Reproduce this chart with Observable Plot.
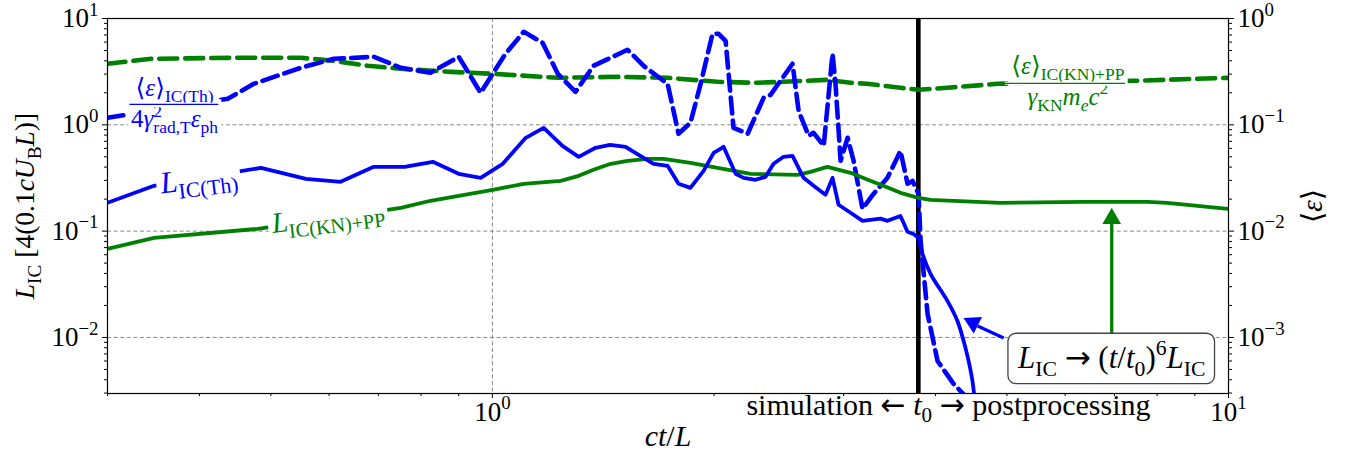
<!DOCTYPE html>
<html><head><meta charset="utf-8">
<script src="https://cdn.jsdelivr.net/npm/d3@7"></script>
<script src="https://cdn.jsdelivr.net/npm/@observablehq/plot@0.6"></script>
<style>body{margin:0;background:#fff} svg{display:block}</style>
</head><body><div id="chart"></div>
<script>
// ---------- data ----------
const t0 = 3.79;
// L_IC(Th) (solid blue, left axis)
const tThSim = [0.300,0.347,0.40,0.485,0.558,0.622,0.690,0.760,0.830,0.900,0.964,1.033,1.11,1.174,1.245,1.31,1.381,1.445,1.517,1.58,1.656,1.73,1.79,1.858,1.936,1.998,2.061,2.14,2.194,2.278,2.35,2.41,2.486,2.557,2.647,2.731,2.835,2.898,2.953,3.066,3.183,3.367,3.441,3.584,3.664,3.733,3.792];
const LThSim = [0.185,0.267,0.317,0.394,0.31,0.291,0.403,0.403,0.449,0.346,0.317,0.43,0.755,0.937,0.634,0.5,0.608,0.649,0.621,0.522,0.43,0.412,0.279,0.255,0.369,0.545,0.621,0.346,0.317,0.304,0.324,0.43,0.5,0.511,0.317,0.267,0.22,0.317,0.177,0.149,0.125,0.131,0.125,0.139,0.0985,0.094,0.0865];
const tThPost = [3.792,3.84,3.937,4.151,4.283,4.392,4.489,4.55];
const LThPost = [0.0865,0.061,0.0397,0.0221,0.0143,0.00798,0.0039,0.0015];
// <eps>_IC(Th)/(4 gamma^2 eps_ph) (dashed blue, right axis)
const tEpsThSim = [0.300,0.437,0.474,0.549,0.609,0.690,0.751,0.824,0.900,0.964,1.001,1.042,1.103,1.17,1.227,1.297,1.372,1.526,1.605,1.693,1.73,1.79,1.858,1.918,1.991,2.029,2.074,2.126,2.222,2.336,2.387,2.557,2.606,2.689,2.731,2.819,2.898,2.925,2.972,3.038,3.095,3.183,3.294,3.441,3.584,3.664,3.722,3.792];
const epsThSim = [0.1164,0.1757,0.243,0.3436,0.418,0.436,0.3436,0.309,0.436,0.2,0.302,0.466,0.75,0.591,0.302,0.2044,0.359,0.508,0.359,0.271,0.243,0.0823,0.1044,0.243,0.718,0.718,0.617,0.0937,0.0823,0.1795,0.1915,0.375,0.1354,0.0788,0.0841,0.0634,0.466,0.243,0.0459,0.0755,0.0459,0.0162,0.0224,0.0317,0.0569,0.0279,0.0297,0.0224];
const tEpsThPost = [3.792,3.817,3.901,4.025,4.232,4.392];
const epsThPost = [0.0224,0.0081,0.00167,0.0006,0.000366,0.00028];
// L_IC(KN)+PP (solid green, left axis)
const tKNSim = [0.300,0.347,0.48,0.751,0.824,0.900,1.001,1.103,1.238,1.31,1.372,1.448,1.526,1.626,1.708,1.858,2.022,2.244,2.597,2.705,2.851,3.066,3.261,3.397,3.584,3.792];
const LKNSim = [0.0682,0.0864,0.105,0.1657,0.193,0.2148,0.2445,0.2786,0.2972,0.331,0.3773,0.4296,0.4584,0.4787,0.4787,0.439,0.394,0.346,0.3386,0.3613,0.4026,0.3535,0.2972,0.2668,0.2293,0.2057];
const tKNPost = [3.792,3.937,4.901,6.35,7.76,8.25,10];
const LKNPost = [0.2057,0.197,0.1846,0.1886,0.1886,0.1846,0.162];
// <eps>_IC(KN)+PP/(gamma_KN m_e c^2) (dashed green, right axis)
const tEpsKNSim = [0.300,0.344,0.445,0.549,0.609,0.677,0.751,0.878,1.001,1.227,1.479,1.73,2.022,2.264,2.486,2.851,3.066,3.23,3.584,3.792];
const epsKNSim = [0.375,0.418,0.427,0.427,0.40,0.359,0.3364,0.315,0.302,0.2767,0.2828,0.2767,0.2538,0.2484,0.2538,0.265,0.2484,0.243,0.2229,0.2135];
const tEpsKNPost = [3.792,4.151,4.85,7.43,10];
const epsKNPost = [0.2135,0.2229,0.243,0.2594,0.2767];

// ticks
const xMajor = [1, 10];
const xMinor = [0.3,0.4,0.5,0.6,0.7,0.8,0.9,2,3,4,5,6,7,8,9];
const yMajor = [0.01, 0.1, 1, 10];          // left axis
const yMinor = [0.003,0.004,0.005,0.006,0.007,0.008,0.009,0.02,0.03,0.04,0.05,0.06,0.07,0.08,0.09,0.2,0.3,0.4,0.5,0.6,0.7,0.8,0.9,2,3,4,5,6,7,8,9];
const leftTickLabels = {0.01: "10^{−2}", 0.1: "10^{−1}", 1: "10^{0}", 10: "10^{1}"};
const rightTickLabels = {0.01: "10^{−3}", 0.1: "10^{−2}", 1: "10^{−1}", 10: "10^{0}"};
const xTickLabels = {1: "10^{0}", 10: "10^{1}"};
const EPS_TO_LEFT = 10; // right axis value x10 = left axis value

// annotations (data units)
const lblTh = [{x: 0.399, y: 0.31, text: "§$L$_{IC(Th)}"}];
const lblKN = [{x: 0.598, y: 0.136, text: "§$L$_{IC(KN)+PP}"}];
const fracTh = [{x: 0.370, y: 0.156, x1: 0.3218, x2: 0.425, num: "§⟨$ε$⟩_{IC(Th)}", den: "§4$γ$^{2}_{rad,T}$ε$_{ph}"}];
const fracKN = [{x: 6.05, y: 0.2457, x1: 4.977, x2: 7.244, num: "§⟨$ε$⟩_{IC(KN)+PP}", den: "§$γ$_{KN}$m$_{$e$}$c$^{2}"}];
const boxNote = [{x: 6.94, y: 0.00636, text: "¶$L$_{IC} → ($t$/$t$_{0})^{6}$L$_{IC}"}];
const arrowBlue = {x1: 4.95, y1: 0.0099, x2: 4.563, y2: 0.0128, tx: 4.365, ty: 0.0152};
const arrowGreen = {x1: 6.94, y1: 0.0064, x2: 6.94, y2: 0.117, tx: 6.94, ty: 0.1655};
const phaseText = [{x: 4.165, text: "simulation ← $t$_{0} → postprocessing"}];

const BLUE = "#0000ff", GREEN = "#008000";
const rows = (xs, ys) => xs.map((x, i) => ({x, y: ys[i]}));
const eps = d => d.y * EPS_TO_LEFT;

const plot = Plot.plot({
  width: 1349, height: 464,
  marginLeft: 107, marginRight: 121, marginTop: 18, marginBottom: 71,
  style: {fontFamily: "'Liberation Serif', 'DejaVu Serif', serif", fontSize: "27px", color: "black", background: "white", overflow: "visible"},
  x: {type: "log", domain: [0.3, 10], label: null},
  y: {type: "log", domain: [0.00297, 10], label: null},
  marks: [
    Plot.gridY(yMajor.slice(0, 3), {stroke: "#888", strokeOpacity: 1, strokeWidth: 1, strokeDasharray: "4,2.6"}),
    Plot.gridX([1], {stroke: "#888", strokeOpacity: 1, strokeWidth: 1, strokeDasharray: "4,2.6"}),
    Plot.ruleX([t0], {stroke: "black", strokeWidth: 4.6}),
    Plot.line(rows(tEpsKNSim, epsKNSim).concat(rows(tEpsKNPost, epsKNPost).slice(1)), {x: "x", y: eps, stroke: GREEN, strokeWidth: 4.6, strokeDasharray: "18,8", clip: true}),
    Plot.line(rows(tEpsThSim, epsThSim).concat(rows(tEpsThPost, epsThPost).slice(1)), {x: "x", y: eps, stroke: BLUE, strokeWidth: 4.6, strokeDasharray: "16,7", clip: true}),
    Plot.line(rows(tKNSim, LKNSim).concat(rows(tKNPost, LKNPost).slice(1)), {x: "x", y: "y", stroke: GREEN, strokeWidth: 3.8, clip: true}),
    Plot.line(rows(tThSim, LThSim), {x: "x", y: "y", stroke: BLUE, strokeWidth: 3.8, clip: true}),
    Plot.line(rows(tThPost, LThPost), {x: "x", y: "y", stroke: BLUE, strokeWidth: 3.8, curve: "catmull-rom", clip: true}),
    Plot.frame({stroke: "black", strokeWidth: 1.2}),
    // axes
    Plot.axisY({ticks: yMajor, anchor: "left", tickSize: 5, tickPadding: 4, tickFormat: d => leftTickLabels[d], fontSize: 27, label: null}),
    Plot.axisY({ticks: yMinor, anchor: "left", tickSize: 3, tickFormat: () => "", label: null}),
    Plot.axisY({ticks: yMajor, anchor: "right", tickSize: 5, tickPadding: 4, tickFormat: d => rightTickLabels[d], fontSize: 27, label: null}),
    Plot.axisY({ticks: yMinor, anchor: "right", tickSize: 3, tickFormat: () => "", label: null}),
    Plot.axisX({ticks: xMajor, anchor: "bottom", tickSize: 5, tickPadding: 3, tickFormat: d => xTickLabels[d], fontSize: 27, label: null}),
    Plot.axisX({ticks: xMinor, anchor: "bottom", tickSize: 3, tickFormat: () => "", label: null}),
    // axis titles
    Plot.text(["$L$_{IC} [4(0.1$cU$_{B}$L$)]"], {frameAnchor: "left", textAnchor: "middle", dx: -82, rotate: -90, fontSize: 27.5, text: d => d}),
    Plot.text(["⟨$ε$⟩"], {frameAnchor: "right", textAnchor: "middle", dx: 84, rotate: -90, fontSize: 29, text: d => d}),
    Plot.text(["$ct$/$L$"], {frameAnchor: "bottom", dy: 52, fontSize: 30, text: d => d}),
    Plot.text(phaseText, {x: "x", frameAnchor: "bottom", dy: 21, fontSize: 30, text: "text"}),
    // line labels
    Plot.text(lblTh, {x: "x", y: "y", text: "text", fill: BLUE, fontSize: 31, rotate: -7}),
    Plot.text(lblKN, {x: "x", y: "y", text: "text", fill: GREEN, fontSize: 29, rotate: -7}),
    Plot.text(fracTh, {x: "x", y: eps, text: "den", fill: BLUE, fontSize: 25, dy: 15}),
    Plot.text(fracTh, {x: "x", y: eps, text: "num", fill: BLUE, fontSize: 25, dy: -16.5}),
    Plot.text(fracKN, {x: "x", y: eps, text: "den", fill: GREEN, fontSize: 25, dy: 13.5}),
    Plot.text(fracKN, {x: "x", y: eps, text: "num", fill: GREEN, fontSize: 25, dy: -17}),
    Plot.ruleY(fracTh, {x1: "x1", x2: "x2", y: eps, stroke: "white", strokeWidth: 3}),
    Plot.ruleY(fracTh, {x1: "x1", x2: "x2", y: eps, stroke: BLUE, strokeWidth: 1.3}),
    Plot.ruleY(fracKN, {x1: "x1", x2: "x2", y: eps, stroke: "white", strokeWidth: 3}),
    Plot.ruleY(fracKN, {x1: "x1", x2: "x2", y: eps, stroke: GREEN, strokeWidth: 1.3}),
    // arrows
    Plot.link([arrowBlue], {x1: "x1", y1: "y1", x2: "x2", y2: "y2", stroke: BLUE, strokeWidth: 3.3}),
    Plot.dot([arrowBlue], {x: "tx", y: "ty", symbol: "triangle", r: 6.9, fill: BLUE, stroke: "none", rotate: -63.4, dx: 9.6, dy: 4.8}),
    Plot.link([arrowGreen], {x1: "x1", y1: "y1", x2: "x2", y2: "y2", stroke: GREEN, strokeWidth: 3.3}),
    Plot.dot([arrowGreen], {x: "tx", y: "ty", symbol: "triangle", r: 6.9, fill: GREEN, stroke: "none", dy: 10.7}),
    Plot.text(boxNote, {x: "x", y: "y", text: "text", fontSize: 31, fill: "black"})
  ]
});
document.getElementById("chart").append(plot);

// ---------- tiny math-text renderer: $..$ italic, _{..} subscript, ^{..} superscript ----------
const NS = "http://www.w3.org/2000/svg";
const SYMBOLS = "←→⟨⟩";
function buildMath(t, s, fs) {
  let italic = false, size = fs, offset = 0, cur = 0, buf = "";
  const stack = [];
  let lastSup = null, pendingBack = null;
  function flush(family) {
    if (!buf) return;
    const ts = document.createElementNS(NS, "tspan");
    ts.textContent = buf;
    ts.setAttribute("font-size", size.toFixed(2));
    ts.setAttribute("font-style", italic && !family ? "italic" : "normal");
    if (family) ts.setAttribute("font-family", family);
    const dy = offset - cur;
    if (dy) ts.setAttribute("dy", dy.toFixed(2));
    cur = offset;
    t.appendChild(ts);
    if (pendingBack) {
      let w = 0; pendingBack.forEach(p => w += p.getComputedTextLength());
      ts.setAttribute("dx", (-w).toFixed(2));
      pendingBack = null;
    }
    stack.forEach(g => g.spans.push(ts));
    buf = ""; lastSup = null;
  }
  for (let i = 0; i < s.length; i++) {
    const c = s[i];
    if ((c === "_" || c === "^") && s[i + 1] === "{") {
      flush();
      if (c === "_" && lastSup) pendingBack = lastSup;
      lastSup = null;
      stack.push({type: c === "_" ? "sub" : "sup", size, offset, spans: []});
      offset = c === "_" ? offset + 0.24 * size : offset - 0.42 * size;
      size = size * 0.7;
      i++;
    } else if (c === "}" && stack.length) {
      flush();
      const g = stack.pop();
      size = g.size; offset = g.offset;
      lastSup = g.type === "sup" ? g.spans : null;
    } else if (c === "$") {
      flush(); italic = !italic;
    } else if (SYMBOLS.includes(c)) {
      flush(); buf = c; flush("'DejaVu Sans'");
    } else buf += c;
  }
  flush();
}
function addBg(t, kind) {
  const bb = t.getBBox();
  const px = kind === "box" ? 9 : 3, py = kind === "box" ? 3 : 1.5;
  const r = document.createElementNS(NS, "rect");
  r.setAttribute("x", bb.x - px); r.setAttribute("y", bb.y - py);
  r.setAttribute("width", bb.width + 2 * px); r.setAttribute("height", bb.height + 2 * py);
  r.setAttribute("fill", "white");
  if (kind === "box") { r.setAttribute("stroke", "#444"); r.setAttribute("stroke-width", 1.3); r.setAttribute("rx", 8); }
  else r.setAttribute("stroke", "none");
  if (t.getAttribute("transform")) r.setAttribute("transform", t.getAttribute("transform"));
  t.parentNode.insertBefore(r, t.parentNode.firstChild);
}
plot.querySelectorAll("text").forEach(t => {
  let s = t.textContent, bg = null;
  if (s.startsWith("§")) { bg = "plain"; s = s.slice(1); }
  else if (s.startsWith("¶")) { bg = "box"; s = s.slice(1); }
  if (!bg && !/\$|_\{|\^\{|[←→⟨⟩]/.test(s)) return;
  const fs = parseFloat(getComputedStyle(t).fontSize);
  while (t.firstChild) t.removeChild(t.firstChild);
  buildMath(t, s, fs);
  if (bg) addBg(t, bg);
});
</script>
</body></html>
